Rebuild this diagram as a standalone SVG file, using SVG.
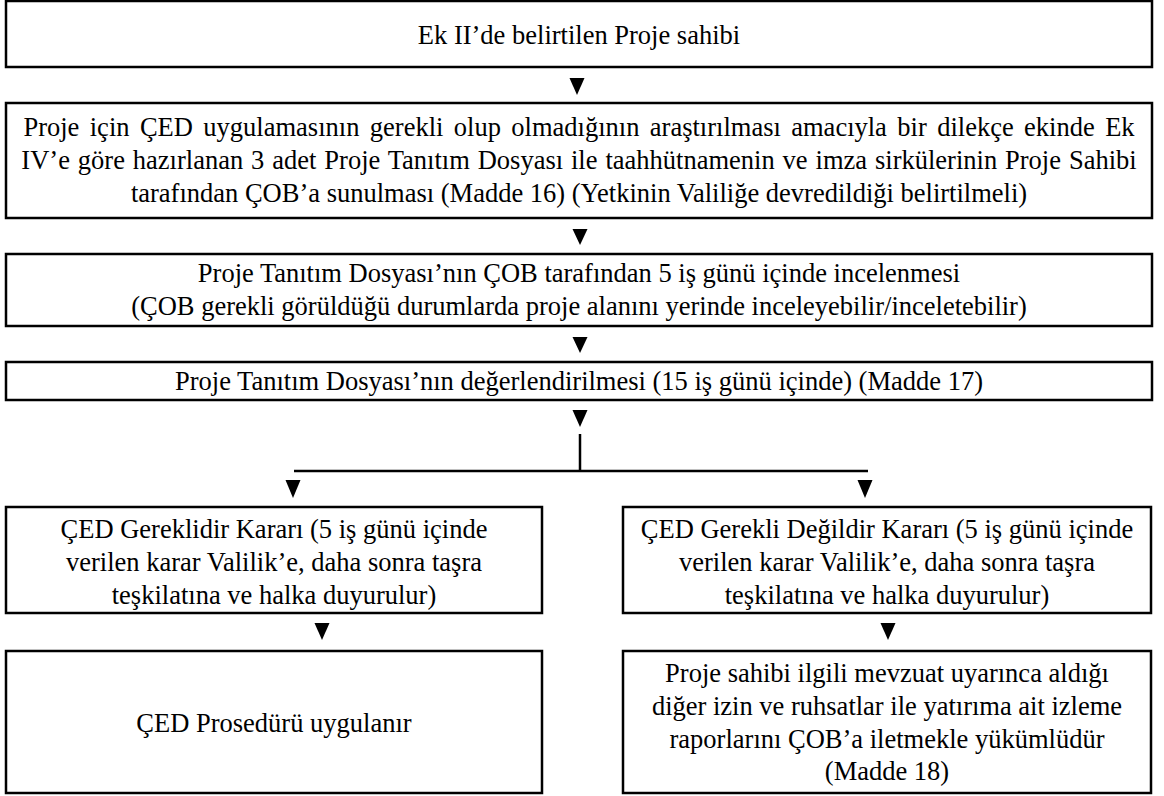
<svg xmlns="http://www.w3.org/2000/svg" width="1164" height="796" viewBox="0 0 1164 796">
<style>
.box{fill:#fff;stroke:#000;stroke-width:2.5}
.t{font-family:"Liberation Serif","Times New Roman",serif;font-size:26.5px;fill:#000;text-anchor:middle}
.ln{stroke:#000;stroke-width:2.5;fill:none}
.ah{fill:#000}
</style>
<rect width="1164" height="796" fill="#fff"/>
<g id="connectors">
<polygon class="ah" points="569.5,78 584.5,78 577,95"/>
<polygon class="ah" points="572.5,229 587.5,229 580,245"/>
<polygon class="ah" points="572.5,337 587.5,337 580,353"/>
<polygon class="ah" points="572.5,410 587.5,410 580,427"/>
<line class="ln" x1="580" y1="434" x2="580" y2="471"/>
<line class="ln" x1="294" y1="471" x2="868" y2="471"/>
<polygon class="ah" points="285.5,480 300.5,480 293,498"/>
<polygon class="ah" points="857.5,480 872.5,480 865,498"/>
<polygon class="ah" points="314.5,623 329.5,623 322,640"/>
<polygon class="ah" points="880.5,623 895.5,623 888,640"/>
</g>
<g id="n1">
<rect class="box" x="6" y="1" width="1146" height="66"/>
<text class="t" x="579" y="44">Ek II’de belirtilen Proje sahibi</text>
</g>
<g id="n2">
<rect class="box" x="6" y="103" width="1146" height="115"/>
<text class="t" x="579" y="136" word-spacing="3.8">Proje için ÇED uygulamasının gerekli olup olmadığının araştırılması amacıyla bir dilekçe ekinde Ek</text>
<text class="t" x="579" y="169" word-spacing="1.3">IV’e göre hazırlanan 3 adet Proje Tanıtım Dosyası ile taahhütnamenin ve imza sirkülerinin Proje Sahibi</text>
<text class="t" x="579" y="202">tarafından ÇOB’a sunulması (Madde 16) (Yetkinin Valiliğe devredildiği belirtilmeli)</text>
</g>
<g id="n3">
<rect class="box" x="6" y="254" width="1146" height="72"/>
<text class="t" x="579" y="282">Proje Tanıtım Dosyası’nın ÇOB tarafından 5 iş günü içinde incelenmesi</text>
<text class="t" x="579" y="315">(ÇOB gerekli görüldüğü durumlarda proje alanını yerinde inceleyebilir/inceletebilir)</text>
</g>
<g id="n4">
<rect class="box" x="6" y="362" width="1146" height="38"/>
<text class="t" x="579" y="390">Proje Tanıtım Dosyası’nın değerlendirilmesi (15 iş günü içinde) (Madde 17)</text>
</g>
<g id="n5">
<rect class="box" x="6" y="507" width="536" height="106"/>
<text class="t" x="274" y="538">ÇED Gereklidir Kararı (5 iş günü içinde</text>
<text class="t" x="274" y="571">verilen karar Valilik’e, daha sonra taşra</text>
<text class="t" x="274" y="604">teşkilatına ve halka duyurulur)</text>
</g>
<g id="n6">
<rect class="box" x="623" y="507" width="528" height="106"/>
<text class="t" x="887" y="538">ÇED Gerekli Değildir Kararı (5 iş günü içinde</text>
<text class="t" x="887" y="571">verilen karar Valilik’e, daha sonra taşra</text>
<text class="t" x="887" y="604">teşkilatına ve halka duyurulur)</text>
</g>
<g id="n7">
<rect class="box" x="6" y="651" width="536" height="142"/>
<text class="t" x="274" y="732">ÇED Prosedürü uygulanır</text>
</g>
<g id="n8">
<rect class="box" x="623" y="651" width="528" height="142"/>
<text class="t" x="887" y="682">Proje sahibi ilgili mevzuat uyarınca aldığı</text>
<text class="t" x="887" y="715">diğer izin ve ruhsatlar ile yatırıma ait izleme</text>
<text class="t" x="887" y="748">raporlarını ÇOB’a iletmekle yükümlüdür</text>
<text class="t" x="887" y="780">(Madde 18)</text>
</g>
</svg>
